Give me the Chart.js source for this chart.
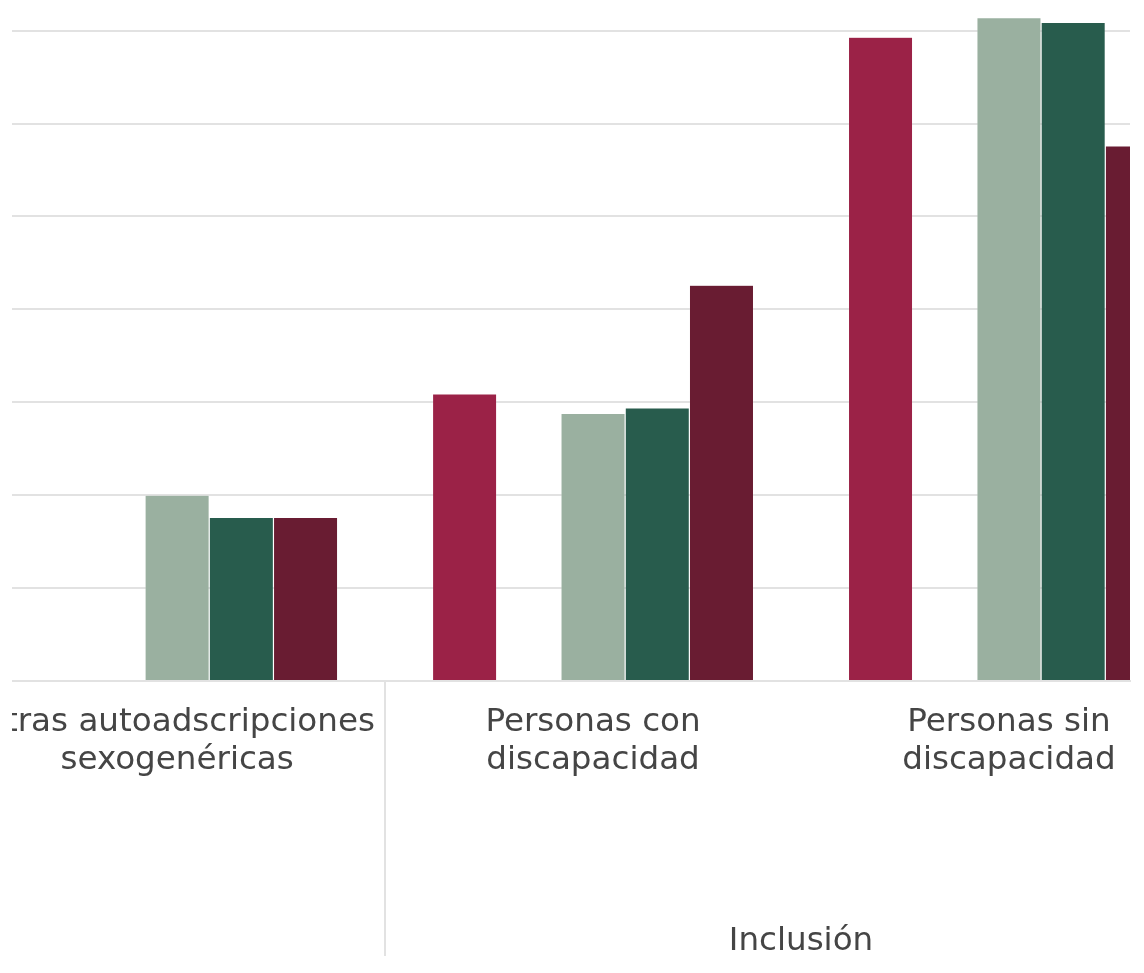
<!DOCTYPE html>
<html>
<head>
<meta charset="utf-8">
<script src="https://cdn.jsdelivr.net/npm/chart.js@4.4.1/dist/chart.umd.min.js"></script>
<style>
html,body{margin:0;padding:0;background:#ffffff;overflow:hidden}
#wrap{width:1144px;height:973px;position:relative;box-sizing:border-box;padding-left:12px}
#c{display:block}
</style>
</head>
<body>
<div id="wrap"><canvas id="c" width="1132" height="973"></canvas></div>
<script>
// ---- Data ----
const CATEGORIES = [
  ['Otras autoadscripciones', 'sexogenéricas'],
  ['Personas con', 'discapacidad'],
  ['Personas sin', 'discapacidad']
];
const GROUPS = ['Inclusión'];
const GROUP_CENTERS = [1.5];
const GROUP_BOUNDARIES = [0.5];

const SERIES_NAMES = ['Serie 1', 'Serie 2', 'Serie 3', 'Serie 4', 'Serie 5'];
const SERIES_1 = [null, 30.9, 69.3];
const SERIES_2 = [null, null, null];
const SERIES_3 = [20.0, 28.8, 71.4];
const SERIES_4 = [17.6, 29.4, 70.9];
const SERIES_5 = [17.6, 42.6, 57.6];
const SERIES_COLORS = ['#9B2247', '#BC955C', '#9AB0A0', '#285C4D', '#691C32'];

const X_MIN = -0.397, X_MAX = 2.291;
const Y_MIN = 0, Y_MAX = 73.3, Y_STEP = 10;

// ---- Build ----
const ALL_SERIES = [SERIES_1, SERIES_2, SERIES_3, SERIES_4, SERIES_5];
const datasets = ALL_SERIES.map((arr, s) => ({
  label: SERIES_NAMES[s],
  data: arr.map((v, i) => ({ x: i, y: v })),
  backgroundColor: SERIES_COLORS[s],
  borderColor: 'rgba(255,255,255,0.3)',
  borderWidth: 0.6,
  borderSkipped: 'start',
  categoryPercentage: 0.772,
  barPercentage: 1.0
}));

const FONT = { family: "'DejaVu Sans', sans-serif", size: 32.6, lineHeight: 1.18 };
const TEXT_COLOR = '#454545';
const GRID_COLOR = '#e2e2e2';

const separatorPlugin = {
  id: 'groupSeparator',
  afterDraw(chart) {
    const xs = chart.scales.x, x2 = chart.scales.x2, ctx = chart.ctx;
    ctx.save();
    ctx.strokeStyle = GRID_COLOR;
    ctx.lineWidth = 2;
    GROUP_BOUNDARIES.forEach(b => {
      const px = Math.round(xs.getPixelForValue(b));
      ctx.beginPath();
      ctx.moveTo(px, chart.chartArea.bottom);
      ctx.lineTo(px, x2.bottom - 5);
      ctx.stroke();
    });
    ctx.restore();
  }
};

new Chart(document.getElementById('c'), {
  type: 'bar',
  data: { datasets },
  plugins: [separatorPlugin],
  options: {
    responsive: false,
    animation: false,
    devicePixelRatio: 1,
    layout: { padding: { left: 0, right: 14, top: 0, bottom: 12 } },
    plugins: { legend: { display: false }, tooltip: { enabled: false } },
    scales: {
      x: {
        type: 'linear',
        position: 'bottom',
        offset: false,
        bounds: 'data',
        weight: 0,
        min: X_MIN,
        max: X_MAX,
        afterBuildTicks: s => { s.ticks = CATEGORIES.map((c, i) => ({ value: i })); },
        afterFit: s => { s.paddingLeft = 0; s.paddingRight = 0; s.height = 100; },
        ticks: {
          autoSkip: false, maxRotation: 0, minRotation: 0,
          padding: 22,
          font: FONT,
          color: TEXT_COLOR,
          callback: (v) => CATEGORIES[v] || ''
        },
        grid: { display: false, drawTicks: false },
        border: { display: true, color: GRID_COLOR, width: 2 }
      },
      x2: {
        type: 'linear',
        position: 'bottom',
        offset: false,
        bounds: 'data',
        weight: 1,
        min: X_MIN,
        max: X_MAX,
        afterBuildTicks: s => { s.ticks = GROUP_CENTERS.map(v => ({ value: v })); },
        afterFit: s => { s.paddingLeft = 0; s.paddingRight = 0; s.height = 180; },
        ticks: {
          autoSkip: false, maxRotation: 0, minRotation: 0,
          padding: 141,
          font: FONT,
          color: TEXT_COLOR,
          callback: (v, i) => GROUPS[i] || ''
        },
        grid: { display: false, drawTicks: false },
        border: { display: false }
      },
      y: {
        min: Y_MIN,
        max: Y_MAX,
        bounds: 'data',
        ticks: { display: false, stepSize: Y_STEP, includeBounds: false },
        grid: { color: GRID_COLOR, lineWidth: 2, drawTicks: false },
        border: { display: false }
      }
    }
  }
});
</script>
</body>
</html>
